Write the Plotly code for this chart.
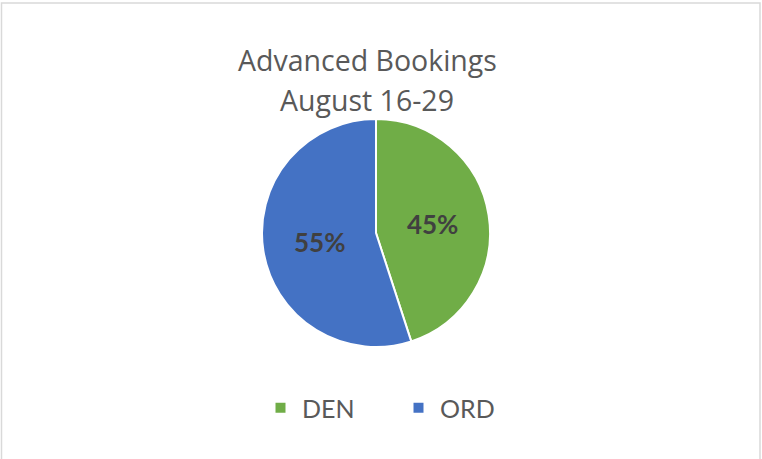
import plotly.graph_objects as go

labels = ["DEN", "ORD"]
values = [45, 55]
colors = ["#70AD47", "#4472C4"]
title_lines = ["Advanced Bookings", "August 16-29"]

W, H = 762, 459
cx, cy, r = 376, 233, 114

fig = go.Figure(go.Pie(
    labels=labels,
    values=values,
    sort=False,
    direction="clockwise",
    rotation=0,
    marker=dict(colors=colors, line=dict(color="white", width=2)),
    textinfo="percent",
    texttemplate="<b>%{percent:.0%}</b>",
    textposition="inside",
    insidetextorientation="horizontal",
    textfont=dict(family="Lato", size=26, color="#404040"),
    domain=dict(x=[(cx - r) / W, (cx + r) / W], y=[(H - cy - r) / H, (H - cy + r) / H]),
    hoverinfo="label+percent",
))

title_y = [60, 100]
annotations = [
    dict(text=t, x=367 / W, y=1 - yy / H, xref="paper", yref="paper",
         xanchor="center", yanchor="middle", showarrow=False,
         font=dict(family="Open Sans", size=28.5, color="#595959"))
    for t, yy in zip(title_lines, title_y)
]

fig.update_layout(
    width=W, height=H,
    margin=dict(l=0, r=0, t=0, b=0),
    paper_bgcolor="white",
    annotations=annotations,
    legend=dict(orientation="h", x=(277 - 18) / W, xanchor="left", y=(H - 408) / H, yanchor="middle",
                font=dict(family="Lato", size=25, color="#595959"),
                entrywidth=90, entrywidthmode="pixels", itemwidth=33),
    showlegend=True,
    shapes=[dict(type="rect", xref="paper", yref="paper", x0=1.5 / W, x1=760 / W, y0=-0.01, y1=1 - 3 / H,
                 line=dict(color="#D9D9D9", width=1.5))],
)

fig.write_html("out.html", config={"displayModeBar": False},
               post_script="document.body.style.margin='0';")
